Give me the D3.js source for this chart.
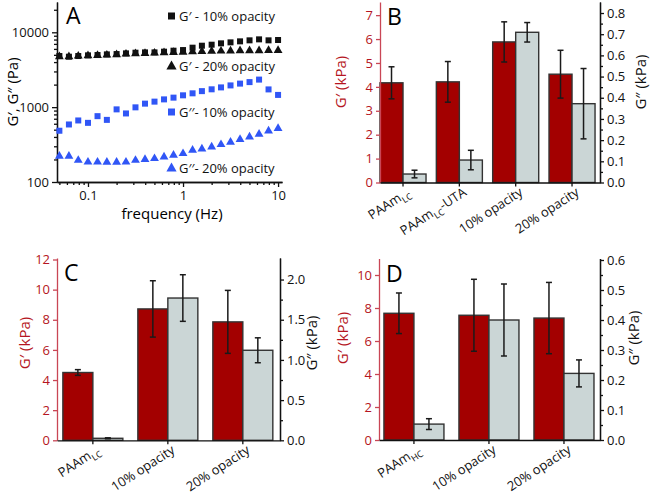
<!DOCTYPE html>
<html>
<head>
<meta charset="utf-8">
<script src="https://cdn.jsdelivr.net/npm/d3@7"></script>
<style>
body { margin: 0; background: #fff; }
text { font-family: "Open Sans", sans-serif; }
</style>
</head>
<body>
<svg id="fig" width="656" height="496"></svg>
<script>
// ---- panel A: frequency sweep (Pa) ----
var freq = [0.05, 0.063, 0.079, 0.1, 0.126, 0.158, 0.2, 0.251, 0.316, 0.398, 0.501, 0.631,
            0.794, 1, 1.26, 1.58, 2, 2.51, 3.16, 3.98, 5.01, 6.31, 7.94, 10];
var storage10 = [4820, 4720, 4820, 4920, 4970, 5070, 5120, 5230, 5340, 5390, 5390, 5510,
                 5680, 5790, 6230, 6620, 6830, 7120, 7340, 7570, 7810, 8050, 7810, 7890];
var storage20 = [4720, 4720, 4820, 4870, 4920, 4970, 5020, 5120, 5180, 5230, 5280, 5340,
                 5390, 5440, 5500, 5550, 5600, 5620, 5650, 5680, 5680, 5700, 5720, 5720];
var loss10 = [484, 587, 664, 617, 758, 676, 934, 824, 994, 1114, 1185, 1270,
              1340, 1439, 1530, 1637, 1731, 1836, 1952, 2063, 2161, 2334, 1726, 1457];
var loss20 = [221, 221, 195, 185, 185, 184, 184, 185, 195, 200, 206, 216,
              228, 240, 266, 277, 294, 317, 340, 370, 400, 435, 482, 519];
var legendA = ["G\u2032 - 10% opacity", "G\u2032 - 20% opacity", "G\u2032\u2032- 10% opacity", "G\u2032\u2032- 20% opacity"];

// ---- panel B ----
var bCats = ["PAAm_{LC}", "PAAm_{LC}-UTA", "10% opacity", "20% opacity"];
var bStorage = [4.17, 4.21, 5.88, 4.53];
var bStorageErr = [0.67, 0.85, 0.84, 1.0];
var bLoss = [0.040, 0.106, 0.709, 0.372];
var bLossErr = [0.018, 0.046, 0.046, 0.166];

// ---- panel C ----
var cCats = ["PAAm_{LC}", "10% opacity", "20% opacity"];
var cStorage = [4.5, 8.72, 7.86];
var cStorageErr = [0.19, 1.87, 2.09];
var cLoss = [0.025, 1.77, 1.12];
var cLossErr = [0.006, 0.29, 0.155];

// ---- panel D ----
var dCats = ["PAAm_{HC}", "10% opacity", "20% opacity"];
var dStorage = [7.68, 7.56, 7.39];
var dStorageErr = [1.23, 2.18, 2.16];
var dLoss = [0.053, 0.40, 0.222];
var dLossErr = [0.018, 0.12, 0.045];

var RED = "#a30000", GREY = "#cbd6d6", AXRED = "#c94655", LBLRED = "#b51522", BLUE = "#3056f6";

var svg = d3.select("#fig");

function styleAxis(g, col, lblCol) {
    g.selectAll("path, line").attr("stroke", col).attr("stroke-width", 1.3);
    g.selectAll("text").attr("fill", lblCol).style("font-size", "13px").style("font-family", "'Open Sans', sans-serif");
}

// =============== panel A ===============
(function () {
    var x = d3.scaleLog().domain([0.0472, 11]).range([57, 282]);
    var y = d3.scaleLog().domain([100, 25400]).range([182, 2]);
    var g = svg.append("g");

    var yMaj = [100, 1000, 10000], xMaj = [0.1, 1, 10];
    g.append("g").attr("transform", "translate(57,0)")
        .call(d3.axisLeft(y).tickValues(y.ticks().filter(function (d) { return yMaj.indexOf(d) < 0; }))
            .tickFormat("").tickSize(3).tickSizeOuter(0))
        .call(styleAxis, "#111", "#111");
    g.append("g").attr("transform", "translate(57,0)")
        .call(d3.axisLeft(y).tickValues(yMaj).tickFormat(d3.format("d")).tickSize(5).tickSizeOuter(0))
        .call(styleAxis, "#111", "#111");
    g.append("g").attr("transform", "translate(0,182)")
        .call(d3.axisBottom(x).tickValues(x.ticks().filter(function (d) { return xMaj.indexOf(+d.toPrecision(3)) < 0; }))
            .tickFormat("").tickSize(3).tickSizeOuter(0))
        .call(styleAxis, "#111", "#111");
    g.append("g").attr("transform", "translate(0,182)")
        .call(d3.axisBottom(x).tickValues(xMaj).tickFormat(function (d) { return String(d); }).tickSize(5).tickSizeOuter(0))
        .call(styleAxis, "#111", "#111")
        .selectAll("text").attr("dy", "0.78em");

    g.append("text").attr("x", 172).attr("y", 219).attr("text-anchor", "middle")
        .style("font-size", "15px").text("frequency (Hz)");
    g.append("text").attr("transform", "translate(18,92) rotate(-90)").attr("text-anchor", "middle")
        .style("font-size", "15px").text("G\u2032, G\u2033 (Pa)");
    g.append("text").attr("x", 66).attr("y", 24).style("font-size", "23px").text("A");

    var tri = d3.symbol().type(d3.symbolTriangle).size(34);
    var series = [
        { v: storage20, shape: "tri", col: "#111" },
        { v: storage10, shape: "sq", col: "#111" },
        { v: loss10, shape: "sq", col: BLUE },
        { v: loss20, shape: "tri", col: BLUE }
    ];
    series.forEach(function (s) {
        var pts = g.append("g").selectAll("path").data(freq).enter();
        if (s.shape === "sq") {
            pts.append("rect")
                .attr("x", function (d) { return x(d) - 3; })
                .attr("y", function (d, i) { return y(s.v[i]) - 3; })
                .attr("width", 6).attr("height", 6).attr("fill", s.col);
        } else {
            pts.append("path").attr("d", tri)
                .attr("transform", function (d, i) { return "translate(" + x(d) + "," + y(s.v[i]) + ")"; })
                .attr("fill", s.col);
        }
    });

    // legend
    var legY = [16, 66, 112, 168];
    var legShape = ["sq", "tri", "sq", "tri"];
    var legCol = ["#111", "#111", BLUE, BLUE];
    legendA.forEach(function (t, i) {
        if (legShape[i] === "sq") {
            g.append("rect").attr("x", 168).attr("y", legY[i] - 3.5).attr("width", 7).attr("height", 7).attr("fill", legCol[i]);
        } else {
            g.append("path").attr("d", d3.symbol().type(d3.symbolTriangle).size(45))
                .attr("transform", "translate(171.5," + (legY[i] + 0.5) + ")").attr("fill", legCol[i]);
        }
        g.append("text").attr("x", 179).attr("y", legY[i] + 5).style("font-size", "13px")
            .attr("fill", "#111").text(t);
    });
})();

// =============== bar panels ===============
function addLabel(sel, label) {
    var parts = label.split(/_\{|\}/);
    var shifted = false;
    parts.forEach(function (p, i) {
        if (!p) return;
        var sub = i % 2 === 1;
        var ts = sel.append("tspan").text(p);
        if (sub) { ts.attr("dy", 4).style("font-size", "9px"); shifted = true; }
        else if (shifted) { ts.attr("dy", -4); shifted = false; }
    });
}

function barPanel(o) {
    var g = svg.append("g");
    var x0 = d3.scaleBand().domain(o.cats).range([o.xl, o.xr])
        .paddingInner(o.pi).paddingOuter(o.po).align(o.align);
    var bw = x0.bandwidth() / 2;
    var yL = d3.scaleLinear().domain([0, o.lMax]).range([o.yb, o.yt]);
    var yR = d3.scaleLinear().domain([0, o.rMax]).range([o.yb, o.yt]);

    var bars = [
        { v: o.storage, e: o.storageErr, y: yL, off: 0, fill: RED },
        { v: o.loss, e: o.lossErr, y: yR, off: bw, fill: GREY }
    ];
    bars.forEach(function (b) {
        g.append("g").selectAll("rect").data(o.cats).enter().append("rect")
            .attr("x", function (d) { return x0(d) + b.off; })
            .attr("y", function (d, i) { return b.y(b.v[i]); })
            .attr("width", bw)
            .attr("height", function (d, i) { return o.yb - b.y(b.v[i]); })
            .attr("fill", b.fill).attr("stroke", "#333").attr("stroke-width", 1.4);
    });
    bars.forEach(function (b) {
        var eg = g.append("g").attr("stroke", "#1a1a1a").attr("stroke-width", 1.5);
        o.cats.forEach(function (c, i) {
            var cx = x0(c) + b.off + bw / 2;
            var y1 = b.y(b.v[i] + b.e[i]), y2 = b.y(b.v[i] - b.e[i]);
            eg.append("line").attr("x1", cx).attr("x2", cx).attr("y1", y1).attr("y2", y2);
            eg.append("line").attr("x1", cx - 3).attr("x2", cx + 3).attr("y1", y1).attr("y2", y1);
            eg.append("line").attr("x1", cx - 3).attr("x2", cx + 3).attr("y1", y2).attr("y2", y2);
        });
    });

    // axes
    g.append("g").attr("transform", "translate(" + o.xl + ",0)")
        .call(d3.axisLeft(yL).tickValues(o.lTicks).tickFormat(d3.format("d")).tickSize(4).tickSizeOuter(0))
        .call(styleAxis, AXRED, LBLRED);
    g.append("g").attr("transform", "translate(" + o.xr + ",0)")
        .call(d3.axisRight(yR).tickValues(o.rMinor).tickFormat("").tickSize(3).tickSizeOuter(0))
        .call(styleAxis, "#111", "#111");
    g.append("g").attr("transform", "translate(" + o.xr + ",0)")
        .call(d3.axisRight(yR).tickValues(o.rTicks).tickFormat(d3.format(".1f")).tickSize(4).tickSizeOuter(0))
        .call(styleAxis, "#111", "#111");
    g.append("g").attr("transform", "translate(0," + o.yb + ")")
        .call(d3.axisBottom(x0).tickFormat("").tickSize(4).tickSizeOuter(0))
        .call(styleAxis, "#111", "#111");

    o.cats.forEach(function (c) {
        var t = g.append("text").attr("text-anchor", "end")
            .attr("transform", "translate(" + (x0(c) + x0.bandwidth() / 2 + 8) + "," + (o.yb + 12) + ") rotate(-33)")
            .style("font-size", "13px").attr("fill", "#111");
        addLabel(t, c);
    });

    g.append("text").attr("transform", "translate(" + o.lTitleX + "," + o.titleY + ") rotate(-90)")
        .attr("text-anchor", "middle").style("font-size", "15px").attr("fill", LBLRED).text("G\u2032 (kPa)");
    g.append("text").attr("transform", "translate(" + o.rTitleX + "," + o.titleY + ") rotate(-90)")
        .attr("text-anchor", "middle").style("font-size", "15px").attr("fill", "#111").text("G\u2033 (kPa)");
    g.append("text").attr("x", o.xl + 7).attr("y", o.yt + 23).style("font-size", "23px").text(o.letter);
}

barPanel({
    letter: "B", cats: bCats, storage: bStorage, storageErr: bStorageErr, loss: bLoss, lossErr: bLossErr,
    xl: 380, xr: 600, yb: 182.5, yt: 2, pi: 0.183, po: 0.044, align: 0,
    lMax: 7.55, rMax: 0.852, lTicks: [0, 1, 2, 3, 4, 5, 6, 7],
    rTicks: d3.range(0, 0.81, 0.1), rMinor: d3.range(0.05, 0.81, 0.1),
    lTitleX: 346, rTitleX: 646, titleY: 82
});
barPanel({
    letter: "C", cats: cCats, storage: cStorage, storageErr: cStorageErr, loss: cLoss, lossErr: cLossErr,
    xl: 57, xr: 280, yb: 440.3, yt: 258, pi: 0.2, po: 0.087, align: 0.45,
    lMax: 12.1, rMax: 2.268, lTicks: [0, 2, 4, 6, 8, 10, 12],
    rTicks: [0, 0.5, 1, 1.5, 2], rMinor: [0.25, 0.75, 1.25, 1.75],
    lTitleX: 30, rTitleX: 317, titleY: 343
});
barPanel({
    letter: "D", cats: dCats, storage: dStorage, storageErr: dStorageErr, loss: dLoss, lossErr: dLossErr,
    xl: 379, xr: 600, yb: 440, yt: 258.5, pi: 0.2, po: 0.073, align: 0.45,
    lMax: 11, rMax: 0.605, lTicks: [0, 2, 4, 6, 8, 10],
    rTicks: d3.range(0, 0.61, 0.1), rMinor: d3.range(0.05, 0.6, 0.1),
    lTitleX: 348, rTitleX: 639, titleY: 338
});
</script>
</body>
</html>
